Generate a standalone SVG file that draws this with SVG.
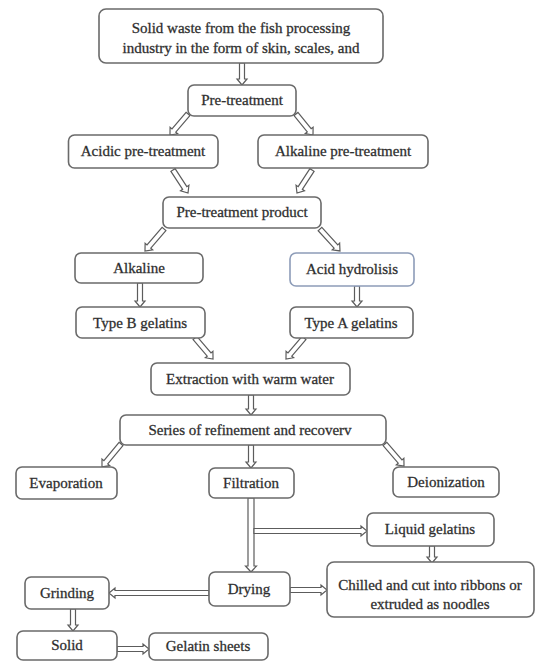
<svg xmlns="http://www.w3.org/2000/svg" width="537" height="663" viewBox="0 0 537 663">
<style>
.box{fill:#fff;stroke:#6a6a6a;stroke-width:1.6}
.blue{stroke:#8d9cb8}
.t{font-family:"Liberation Serif","Times New Roman",serif;font-size:15px;fill:#2a2a2a;stroke:#3a3a3a;stroke-width:0.3;text-anchor:middle}
.ar{fill:#fff;stroke:#5c5c5c;stroke-width:1.2;stroke-linejoin:miter}
</style>
<rect width="537" height="663" fill="#fff"/>
<g id="connectors">
<path class="ar" transform="translate(242 63) rotate(90)" d="M0,-2.5H16V-5L22,0L16,5V2.5H0Z"/>
<path class="ar" transform="translate(188 114) rotate(130.6)" d="M0,-2.5H21.7V-5L27.7,0L21.7,5V2.5H0Z"/>
<path class="ar" transform="translate(296 114) rotate(51)" d="M0,-2.5H21V-5L27,0L21,5V2.5H0Z"/>
<path class="ar" transform="translate(173 170) rotate(56.9)" d="M0,-2.5H21.5V-5L27.5,0L21.5,5V2.5H0Z"/>
<path class="ar" transform="translate(312 170) rotate(123.1)" d="M0,-2.5H21.5V-5L27.5,0L21.5,5V2.5H0Z"/>
<path class="ar" transform="translate(164 229) rotate(130.8)" d="M0,-2.5H23.1V-5L29.1,0L23.1,5V2.5H0Z"/>
<path class="ar" transform="translate(320 229) rotate(47.7)" d="M0,-2.5H23.7V-5L29.7,0L23.7,5V2.5H0Z"/>
<path class="ar" transform="translate(140 283) rotate(90)" d="M0,-2.5H18V-5L24,0L18,5V2.5H0Z"/>
<path class="ar" transform="translate(357 286) rotate(90)" d="M0,-2.5H15V-5L21,0L15,5V2.5H0Z"/>
<path class="ar" transform="translate(195 338) rotate(49.4)" d="M0,-2.5H21.7V-5L27.7,0L21.7,5V2.5H0Z"/>
<path class="ar" transform="translate(304 338) rotate(130.6)" d="M0,-2.5H21.7V-5L27.7,0L21.7,5V2.5H0Z"/>
<path class="ar" transform="translate(251 395) rotate(90)" d="M0,-2.5H14V-5L20,0L14,5V2.5H0Z"/>
<path class="ar" transform="translate(121 444) rotate(129.6)" d="M0,-2.5H23.8V-5L29.8,0L23.8,5V2.5H0Z"/>
<path class="ar" transform="translate(251 445) rotate(90)" d="M0,-2.5H17V-5L23,0L17,5V2.5H0Z"/>
<path class="ar" transform="translate(385 444) rotate(49.2)" d="M0,-2.5H23.1V-5L29.1,0L23.1,5V2.5H0Z"/>
<path class="ar" transform="translate(251 498) rotate(90)" d="M0,-3H68V-5.5L74,0L68,5.5V3H0Z"/>
<path class="ar" transform="translate(254 531)" d="M0,-2.5H107V-5L113,0L107,5V2.5H0Z"/>
<path class="ar" transform="translate(432 546) rotate(90)" d="M0,-2.5H11V-5L17,0L11,5V2.5H0Z"/>
<path class="ar" transform="translate(290 590)" d="M0,-2.5H31V-5L37,0L31,5V2.5H0Z"/>
<path class="ar" transform="translate(209 593) rotate(180)" d="M0,-2.5H94V-5L100,0L94,5V2.5H0Z"/>
<path class="ar" transform="translate(73 609) rotate(90)" d="M0,-2.5H16V-5L22,0L16,5V2.5H0Z"/>
<path class="ar" transform="translate(117 649)" d="M0,-2.5H26V-5L32,0L26,5V2.5H0Z"/>
</g>
<g id="n-source"><rect class="box" x="99" y="9" width="284" height="54" rx="7"/><text class="t" x="241" y="33">Solid waste from the fish processing</text><text class="t" x="241" y="53">industry in the form of skin, scales, and</text></g>
<g id="n-pretreatment"><rect class="box" x="188" y="85" width="108" height="31" rx="6"/><text class="t" x="242" y="105">Pre-treatment</text></g>
<g id="n-acidic"><rect class="box" x="68.5" y="135" width="149.5" height="33" rx="6"/><text class="t" x="143" y="156">Acidic pre-treatment</text></g>
<g id="n-alkpre"><rect class="box" x="258" y="135" width="170" height="33" rx="6"/><text class="t" x="343" y="156">Alkaline pre-treatment</text></g>
<g id="n-ptp"><rect class="box" x="163" y="197" width="158" height="31" rx="6"/><text class="t" x="242" y="217">Pre-treatment product</text></g>
<g id="n-alkaline"><rect class="box" x="75" y="253" width="128" height="30" rx="6"/><text class="t" x="139" y="273">Alkaline</text></g>
<g id="n-acidhyd"><rect class="box blue" x="290" y="253" width="124" height="33" rx="6"/><text class="t" x="352" y="274">Acid hydrolisis</text></g>
<g id="n-typeb"><rect class="box" x="76" y="307" width="129" height="31" rx="6"/><text class="t" x="140" y="328">Type B gelatins</text></g>
<g id="n-typea"><rect class="box" x="290" y="307" width="123" height="31" rx="6"/><text class="t" x="351" y="328">Type A gelatins</text></g>
<g id="n-extraction"><rect class="box" x="151" y="363" width="199" height="32" rx="6"/><text class="t" x="250" y="384">Extraction with warm water</text></g>
<g id="n-series"><rect class="box" x="120" y="415" width="266" height="30" rx="6"/><text class="t" x="250" y="435">Series of refinement and recoverv</text></g>
<g id="n-evap"><rect class="box" x="16" y="467" width="101" height="32" rx="6"/><text class="t" x="66" y="488">Evaporation</text></g>
<g id="n-filt"><rect class="box" x="209" y="468" width="85" height="30" rx="6"/><text class="t" x="251" y="488">Filtration</text></g>
<g id="n-deion"><rect class="box" x="393" y="467" width="106" height="30" rx="6"/><text class="t" x="446" y="487">Deionization</text></g>
<g id="n-liquid"><rect class="box" x="367" y="513" width="127" height="33" rx="6"/><text class="t" x="430" y="534">Liquid gelatins</text></g>
<g id="n-chilled"><rect class="box" x="327" y="562" width="207" height="55" rx="7"/><text class="t" x="430" y="590">Chilled and cut into ribbons or</text><text class="t" x="430" y="609">extruded as noodles</text></g>
<g id="n-drying"><rect class="box" x="209" y="572" width="81" height="34" rx="6"/><text class="t" x="249" y="594">Drying</text></g>
<g id="n-grinding"><rect class="box" x="25" y="577" width="84" height="32" rx="6"/><text class="t" x="67" y="598">Grinding</text></g>
<g id="n-solid"><rect class="box" x="17" y="631" width="100" height="29" rx="6"/><text class="t" x="67" y="650">Solid</text></g>
<g id="n-sheets"><rect class="box" x="149" y="633" width="119" height="27" rx="6"/><text class="t" x="208" y="651">Gelatin sheets</text></g>
</svg>
